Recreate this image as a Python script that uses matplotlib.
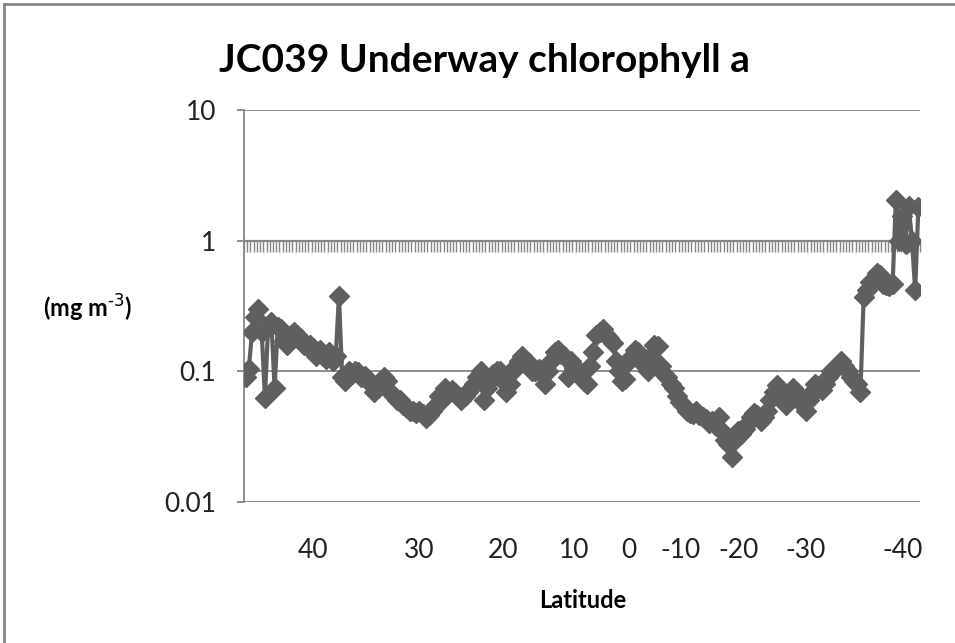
import numpy as np
import matplotlib.pyplot as plt
from matplotlib.lines import Line2D

# chlorophyll a (mg m-3), one value per underway sample, north -> south
chl = [
    0.09, 0.105, 0.2, 0.26, 0.30, 0.2, 0.063, 0.22, 0.24, 0.075,
    0.22, 0.21, 0.17, 0.16, 0.19, 0.2, 0.19, 0.18, 0.16, 0.155,
    0.16, 0.15, 0.13, 0.145, 0.13, 0.125, 0.14, 0.12, 0.13, 0.38,
    0.09, 0.085, 0.1, 0.095, 0.1, 0.098, 0.09, 0.092, 0.085, 0.08,
    0.07, 0.075, 0.08, 0.09, 0.085, 0.07, 0.065, 0.06, 0.06, 0.055,
    0.052, 0.05, 0.05, 0.048, 0.05, 0.047, 0.044, 0.046, 0.05, 0.055,
    0.065, 0.06, 0.075, 0.07, 0.072, 0.068, 0.065, 0.06, 0.065, 0.07,
    0.075, 0.08, 0.09, 0.1, 0.06, 0.075, 0.085, 0.095, 0.1, 0.1,
    0.085, 0.07, 0.08, 0.1, 0.11, 0.12, 0.13, 0.12, 0.115, 0.1,
    0.1, 0.105, 0.095, 0.08, 0.1, 0.12, 0.14, 0.145, 0.135, 0.13,
    0.09, 0.12, 0.11, 0.1, 0.095, 0.085, 0.08, 0.11, 0.14, 0.19,
    0.2, 0.21, 0.19, 0.18, 0.165, 0.12, 0.1, 0.085, 0.088, 0.12,
    0.13, 0.145, 0.14, 0.12, 0.11, 0.1, 0.13, 0.16, 0.155, 0.11,
    0.095, 0.09, 0.08, 0.075, 0.065, 0.058, 0.055, 0.05, 0.048, 0.047,
    0.05, 0.046, 0.045, 0.043, 0.04, 0.042, 0.038, 0.045, 0.035, 0.03,
    0.028, 0.022, 0.03, 0.035, 0.033, 0.036, 0.04, 0.045, 0.048, 0.046,
    0.042, 0.045, 0.05, 0.06, 0.07, 0.078, 0.065, 0.06, 0.055, 0.065,
    0.075, 0.07, 0.06, 0.055, 0.05, 0.06, 0.07, 0.08, 0.075, 0.072,
    0.08, 0.09, 0.1, 0.105, 0.11, 0.12, 0.11, 0.1, 0.09, 0.085,
    0.08, 0.07, 0.37, 0.42, 0.48, 0.5, 0.57, 0.55, 0.47, 0.46,
    0.45, 0.47, 2.05, 1.0, 1.55, 0.95, 1.85, 1.0, 0.42, 1.8,
]

# latitude labels and the sample index they sit under
lat_labels = ["40", "30", "20", "10", "0", "-10", "-20", "-30", "-40"]
lat_index = [21, 54, 80, 102, 119, 135, 153, 174, 204]

y_ticks = [0.01, 0.1, 1, 10]
y_labels = ["0.01", "0.1", "1", "10"]

GREY = "#868686"
LINE = "#5f5f5f"
FONT = "Lato"

plt.rcParams["font.family"] = [FONT, "DejaVu Sans"]

fig = plt.figure(figsize=(9.55, 6.43), dpi=100)
ax = fig.add_axes([244 / 955, 1 - 502 / 643, 676 / 955, 392 / 643])

n = len(chl)
x = np.arange(n)
ax.plot(x, chl, color=LINE, lw=3, marker="D", ms=10.5,
        mfc=LINE, mec=LINE, mew=1, zorder=3)

ax.set_yscale("log")
ax.set_ylim(0.01, 10)
ax.set_xlim(-0.5, n - 0.5)
ax.set_yticks(y_ticks)
ax.set_yticklabels(y_labels)
ax.yaxis.set_minor_locator(plt.NullLocator())
ax.tick_params(axis="y", length=5, width=1.3, color=GREY, labelsize=19,
               pad=15, labelcolor="#222222")
ax.grid(axis="y", color=GREY, lw=1.3)

ax.set_xticks(lat_index)
ax.set_xticklabels(lat_labels)
ax.tick_params(axis="x", length=0, labelsize=19, pad=26, labelcolor="#222222")

for s in ["top", "right", "bottom"]:
    ax.spines[s].set_visible(False)
ax.spines["left"].set_color(GREY)
ax.spines["left"].set_linewidth(1.3)

# category axis crossing at y = 1, with a tick between every sample
cat = ax.secondary_xaxis(2 / 3)
cat.set_xticks(np.arange(n + 1) - 0.5)
cat.set_xticklabels([])
cat.tick_params(length=8, width=1, color=GREY, direction="in")
for s in cat.spines.values():
    s.set_color(GREY)
    s.set_linewidth(1.6)

fig.text(484 / 955, 1 - 60 / 643, "JC039 Underway chlorophyll a",
         ha="center", va="center", fontsize=28, fontweight="bold")
fig.text(583 / 955, 1 - 600 / 643, "Latitude", ha="center", va="center",
         fontsize=17, fontweight="bold")
fig.text(88 / 955, 1 - 308 / 643, r"(mg m$^{\text{-3}}$)",
         ha="center", va="center", fontsize=17, fontweight="bold")

# chart border (left and top edges visible in the reference)
fig.add_artist(Line2D([4 / 955, 4 / 955], [0, 1 - 4 / 643],
                      transform=fig.transFigure, color=GREY, lw=2))
fig.add_artist(Line2D([4 / 955, 1], [1 - 4 / 643, 1 - 4 / 643],
                      transform=fig.transFigure, color=GREY, lw=2))

fig.savefig("out.png", dpi=100)
